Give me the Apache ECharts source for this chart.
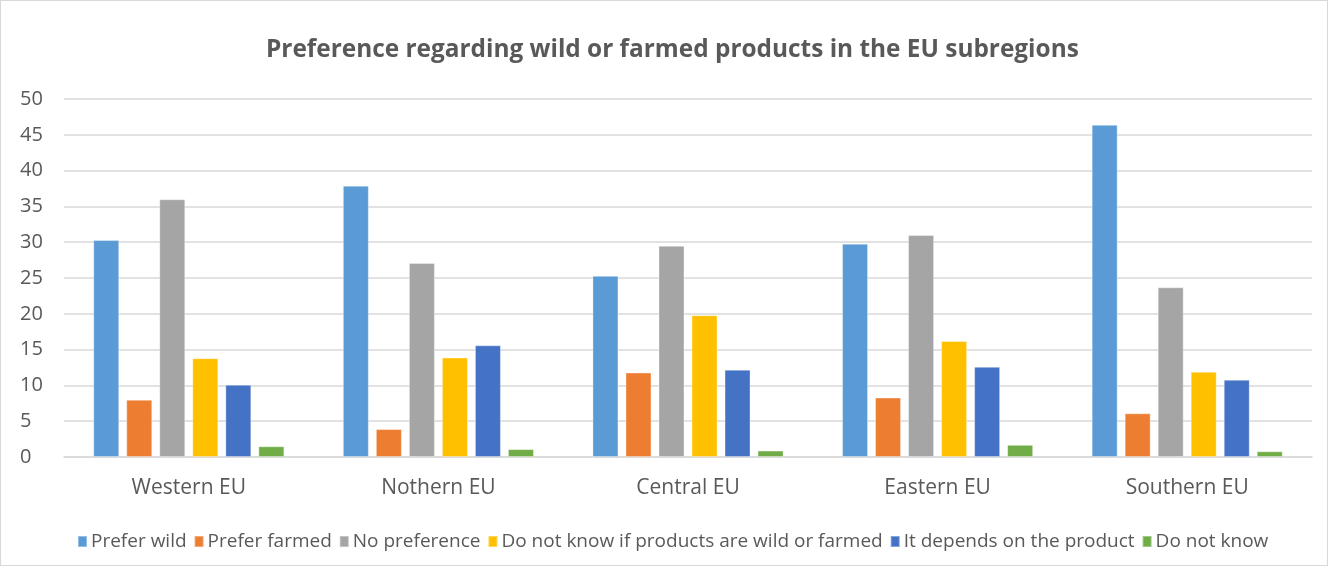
<!DOCTYPE html>
<html><head><meta charset="utf-8">
<script src="https://cdn.jsdelivr.net/npm/echarts@6/dist/echarts.min.js"></script>
<style>html,body{margin:0;padding:0;background:#fff}#c{width:1328px;height:566px;box-sizing:border-box;border:1px solid #d9d9d9}</style>
</head><body><div id="c"></div>
<script>
const categories = ['Western EU','Nothern EU','Central EU','Eastern EU','Southern EU'];
const seriesNames = ['Prefer wild','Prefer farmed','No preference','Do not know if products are wild or farmed','It depends on the product','Do not know'];
const preferWild = [30.3, 37.9, 25.3, 29.8, 46.4];
const preferFarmed = [8.0, 3.9, 11.8, 8.3, 6.1];
const noPreference = [36.0, 27.1, 29.5, 31.0, 23.7];
const doNotKnowIf = [13.8, 13.9, 19.8, 16.2, 11.9];
const itDepends = [10.1, 15.6, 12.2, 12.6, 10.8];
const doNotKnow = [1.5, 1.1, 0.9, 1.7, 0.8];
const yTicks = [0,5,10,15,20,25,30,35,40,45,50];
const colors = ['#5b9bd5','#ed7d31','#a5a5a5','#ffc000','#4472c4','#70ad47'];
const values = [preferWild, preferFarmed, noPreference, doNotKnowIf, itDepends, doNotKnow];
const FONT = 'Open Sans';
const chart = echarts.init(document.getElementById('c'), null, {renderer:'canvas'});
chart.setOption({
  animation:false,
  title:{text:'Preference regarding wild or farmed products in the EU subregions',left:260,top:32,
    textStyle:{fontFamily:FONT,fontSize:24.4,fontWeight:'bold',color:'#595959'}},
  color:colors,
  grid:{left:63,right:15,top:98,bottom:108,containLabel:false},
  legend:{top:526,left:71,itemWidth:9,itemHeight:11,itemGap:7,icon:'rect',
    textStyle:{fontFamily:FONT,fontSize:19,color:'#595959',padding:[0,0,0,-1]},data:seriesNames},
  xAxis:{type:'category',data:categories,
    axisLine:{lineStyle:{color:'#d9d9d9',width:1.5}},axisTick:{show:false},
    axisLabel:{fontFamily:FONT,fontSize:21,color:'#595959',margin:21}},
  yAxis:{type:'value',min:yTicks[0],max:yTicks[yTicks.length-1],interval:5,
    axisLine:{show:false},axisTick:{show:false},
    splitLine:{lineStyle:{color:'#d9d9d9',width:1.5}},
    axisLabel:{fontFamily:FONT,fontSize:20,color:'#595959',align:'left',margin:44}},
  series: seriesNames.map((n,i)=>({name:n,type:'bar',data:values[i],barWidth:26,barGap:'27%',barCategoryGap:'24%',
    itemStyle:{color:colors[i],borderColor:'rgba(255,255,255,0.35)',borderWidth:1}}))
});
</script></body></html>
